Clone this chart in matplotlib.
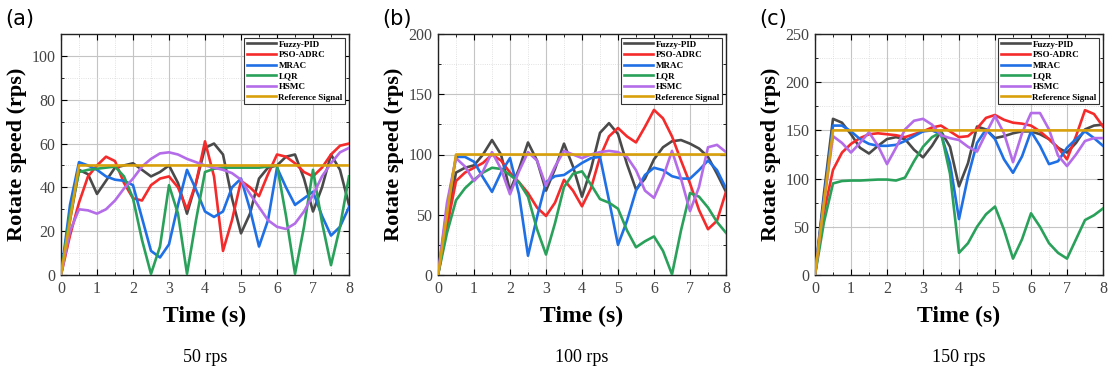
import numpy as np
import matplotlib
matplotlib.use("Agg")
import matplotlib.pyplot as plt
from matplotlib.ticker import MultipleLocator

# ---------------- data ----------------
t = [0, 0.25, 0.5, 0.75, 1.0, 1.25, 1.5, 1.75, 2.0, 2.25, 2.5, 2.75, 3.0, 3.25, 3.5, 3.75,
     4.0, 4.25, 4.5, 4.75, 5.0, 5.25, 5.5, 5.75, 6.0, 6.25, 6.5, 6.75, 7.0, 7.25, 7.5, 7.75, 8.0]

labels = ["Fuzzy-PID", "PSO-ADRC", "MRAC", "LQR", "HSMC", "Reference Signal"]
panel_tags = ["(a)", "(b)", "(c)"]
captions = ["50 rps", "100 rps", "150 rps"]
ref_levels = [50, 100, 150]
ref_t = [0, 0.5, 8]

# panel (a) 50 rps
a_fuzzy = [0, 25, 48, 46, 37, 43, 49, 50, 51, 48, 45, 47, 50, 42, 28, 42,
           58, 60, 55, 35, 19, 28, 44, 49, 50, 54, 55, 44, 29, 40, 55, 48, 32]
a_pso = [0, 18, 33, 45, 50, 54, 52, 42, 35, 34, 41, 44, 45, 40, 30, 42,
         61, 45, 11, 25, 43, 40, 36, 46, 55, 54, 51, 47, 45, 49, 55, 59, 60]
a_mrac = [0, 32, 51.5, 50, 48, 45, 43.5, 43, 41, 26, 11, 8, 14, 32, 48, 39,
          29, 26.5, 29, 40, 44, 30, 13, 25, 49, 40, 32, 35, 38, 27, 18, 22, 31]
a_lqr = [0, 28, 47, 48, 48.5, 49, 49.5, 45, 35, 16, 0.5, 13, 41, 28, 0.5, 25,
         47, 48.5, 49, 49, 49, 49, 49, 49.5, 50, 27, 0.5, 22, 48, 24, 4.5, 22, 45]
a_hsmc = [0, 20, 30, 29.5, 28, 30, 34, 39.5, 44, 49.5, 53, 55.5, 56, 55, 53, 51.5,
          50, 49, 48, 46.5, 43.5, 37, 31, 25, 22, 21, 23.5, 29, 36.5, 45, 51, 56, 58]

# panel (b) 100 rps
b_fuzzy = [0, 45, 85, 89, 91, 100, 112, 100, 70, 88, 110, 95, 70, 88, 109, 90,
           65, 88, 118, 126, 117, 92, 71, 80, 96, 106, 111, 112, 109, 105, 98, 84, 69]
b_pso = [0, 40, 78, 85, 89, 93, 100, 95, 85, 77, 68, 56, 49, 60, 79, 70,
         57, 72, 98, 115, 122, 115, 110, 123, 137, 130, 115, 95, 76, 54, 38, 45, 69]
b_mrac = [0, 55, 98, 98, 94, 81, 69, 85, 97, 67, 16, 48, 77, 82, 83, 88,
          93, 97, 98, 62, 25, 45, 70, 83, 89, 87, 82, 80, 80, 87, 95, 87, 72]
b_lqr = [0, 35, 62, 72, 79, 85, 89, 88, 83, 77, 65, 38, 17, 43, 73, 84,
         86, 75, 63, 60, 55, 37, 23, 28, 32, 20, 0.5, 37, 68, 65, 56, 44, 35]
b_hsmc = [0, 60, 97, 90, 78, 86, 102, 88, 67, 86, 102, 95, 74, 90, 103, 100,
          97, 100, 102, 103, 102, 98, 87, 70, 64, 81, 103, 80, 53, 73, 106, 108, 102]

# panel (c) 150 rps
c_fuzzy = [0, 85, 162, 158, 146, 132, 126, 134, 141, 143, 141, 130, 122, 134, 149, 133,
           92, 116, 154, 151, 142, 144, 147, 149, 149, 146, 141, 132, 127, 137, 151, 155, 156]
c_pso = [0, 65, 109, 127, 136, 142, 146, 147, 146, 145, 143, 146, 149, 153, 155, 149,
         143, 144, 152, 163, 166, 161, 158, 157, 155, 149, 141, 132, 120, 144, 171, 167, 154]
c_mrac = [0, 80, 155, 155, 149, 141, 136, 134, 134, 135, 139, 144, 149, 150, 146, 116,
          58, 102, 137, 151, 141, 120, 106, 123, 149, 134, 115, 118, 132, 141, 149, 142, 134]
c_lqr = [0, 55, 95, 97.5, 98, 98, 98.5, 99, 99, 98, 101, 118, 133, 143, 148, 105,
         23, 33, 50, 63, 71, 47, 17, 37, 64, 50, 33, 23, 17, 37, 57, 62, 69]
c_hsmc = [0, 75, 144, 137, 127, 137, 148, 134, 115, 132, 151, 160, 162, 156, 145, 142,
          140, 133, 128, 147, 165, 147, 117, 147, 168, 168, 151, 124, 113, 125, 139, 142, 142]

panels = [
    [a_fuzzy, a_pso, a_mrac, a_lqr, a_hsmc],
    [b_fuzzy, b_pso, b_mrac, b_lqr, b_hsmc],
    [c_fuzzy, c_pso, c_mrac, c_lqr, c_hsmc],
]
ylims = [110, 200, 250]
ymajor = [20, 50, 50]
yminor = [10, 25, 25]

colors = ["#4a4a4a", "#f52a2a", "#1f6fe5", "#2aa15a", "#b46ce8", "#d9a00b"]

# ---------------- figure ----------------
fig = plt.figure(figsize=(11.12, 3.74), dpi=100)
lefts = [61, 438, 815]
serif = ["Liberation Serif", "DejaVu Serif"]

for i in range(3):
    ax = fig.add_axes([lefts[i] / 1112, 1 - 275 / 374, 288 / 1112, 241 / 374])
    for k, ys in enumerate(panels[i]):
        ax.plot(t, ys, color=colors[k], lw=1.9, label=labels[k],
                solid_joinstyle="round", zorder=3)
    ax.plot(ref_t, [0, ref_levels[i], ref_levels[i]], color=colors[5], lw=1.9,
            label=labels[5], zorder=4)
    ax.set_xlim(0, 8)
    ax.set_ylim(0, ylims[i])
    ax.xaxis.set_major_locator(MultipleLocator(1))
    ax.xaxis.set_minor_locator(MultipleLocator(0.5))
    ax.yaxis.set_major_locator(MultipleLocator(ymajor[i]))
    ax.yaxis.set_minor_locator(MultipleLocator(yminor[i]))
    ax.grid(which="major", color="#c4c4c4", lw=0.8, ls="-", zorder=0)
    ax.grid(which="minor", color="#d8d8d8", lw=0.6, ls=":", zorder=0)
    ax.set_axisbelow(True)
    ax.tick_params(which="both", direction="in", top=True, right=True,
                   labelsize=11.5, labelcolor="#444444", pad=4)
    ax.tick_params(which="major", length=4, width=0.8)
    ax.tick_params(which="minor", length=2, width=0.6)
    for lab in ax.get_xticklabels() + ax.get_yticklabels():
        lab.set_family(serif)
    for s in ax.spines.values():
        s.set_linewidth(1.0)
        s.set_color("#222222")
    ax.set_ylabel("Rotate speed (rps)", family=serif, fontweight="bold", fontsize=16, labelpad=3)
    ax.set_xlabel("Time (s)", family=serif, fontweight="bold", fontsize=17, labelpad=7)
    leg = ax.legend(loc="upper right", prop={"family": serif, "weight": "bold", "size": 6.5},
                    handlelength=3.2, handletextpad=0.3, borderpad=0.3, labelspacing=0.25,
                    fancybox=False, framealpha=1, edgecolor="#333333",
                    borderaxespad=0.4)
    leg.get_frame().set_linewidth(0.8)
    fig.text((lefts[i] - 56) / 1112, 1 - 19 / 374, panel_tags[i], fontsize=15,
             family=["DejaVu Sans"], ha="left", va="center")
    fig.text((lefts[i] + 144) / 1112, 1 - 358 / 374, captions[i], fontsize=13,
             family=serif, ha="center", va="center")

fig.savefig("out.png", dpi=100)
